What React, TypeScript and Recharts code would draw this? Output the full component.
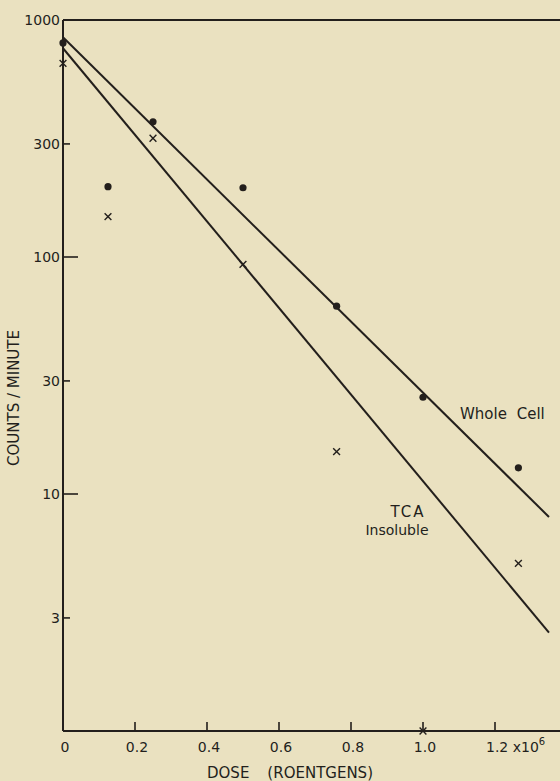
import React from "react";
import {
  ScatterChart,
  Scatter,
  XAxis,
  YAxis,
  ReferenceLine,
  Customized,
} from "recharts";

// dose in units of 10^6 roentgens
const doses = [0, 0.125, 0.25, 0.5, 0.76, 1.0, 1.265];
const wholeCell = [800, 198, 372, 196, 62, 25.6, 12.9];
const tcaInsoluble = [656, 148, 317, 93, 15.1, 1, 5.1];

// fitted straight lines (two ends each)
const fitDoses = [0, 1.35];
const wholeCellFit = [845, 8.0];
const tcaFit = [760, 2.6];

const xTicks = [0, 0.2, 0.4, 0.6, 0.8, 1.0, 1.2];
const xTickLabels = ["0", "0.2", "0.4", "0.6", "0.8", "1.0", "1.2"];
const yTicks = [3, 10, 30, 100, 300, 1000];
const yTickLabels = ["3", "10", "30", "100", "300", "1000"];

const ink = "#231f1c";
const font = "'DejaVu Sans', sans-serif";

// layout
const PLOT_LEFT = 63;
const PLOT_BOTTOM = 731;

const toPoints = (xs: number[], ys: number[]) =>
  xs.map((x, i) => ({ dose: x, counts: ys[i] }));

const wholeCellData = toPoints(doses, wholeCell);
const tcaData = toPoints(doses, tcaInsoluble);
const wholeCellLine = toPoints(fitDoses, wholeCellFit);
const tcaLine = toPoints(fitDoses, tcaFit);

const DotShape = (props: any) => (
  <circle cx={props.cx} cy={props.cy} r={3.6} fill={ink} />
);

const CrossShape = (props: any) => {
  const { cx, cy } = props;
  const s = 3.4;
  return (
    <g stroke={ink} strokeWidth={1.4}>
      <line x1={cx - s} y1={cy - s} x2={cx + s} y2={cy + s} />
      <line x1={cx - s} y1={cy + s} x2={cx + s} y2={cy - s} />
    </g>
  );
};

const NoShape = () => <g />;

const XTick = (props: any) => {
  const { x, payload } = props;
  const y = PLOT_BOTTOM;
  const i = xTicks.indexOf(payload.value);
  const label = xTickLabels[i];
  return (
    <g>
      {i > 0 && (
        <line x1={x} x2={x} y1={y} y2={y - 9} stroke={ink} strokeWidth={1.6} />
      )}
      {i === xTicks.length - 1 ? (
        <text x={x - 9} y={y + 21} fontSize={14} fontFamily={font} fill={ink}>
          {label} x10
          <tspan dy={-7} fontSize={10}>
            6
          </tspan>
        </text>
      ) : (
        <text
          x={x + 2}
          y={y + 21}
          fontSize={14}
          fontFamily={font}
          fill={ink}
          textAnchor="middle"
        >
          {label}
        </text>
      )}
    </g>
  );
};

const YTick = (props: any) => {
  const { y, payload } = props;
  const x = PLOT_LEFT;
  const i = yTicks.indexOf(payload.value);
  const len = payload.value === 10 || payload.value === 100 ? 15 : 7;
  return (
    <g>
      {payload.value !== 1000 && (
        <line x1={x} x2={x + len} y1={y} y2={y} stroke={ink} strokeWidth={1.6} />
      )}
      <text
        x={x - 3}
        y={y + 5}
        fontSize={14}
        fontFamily={font}
        fill={ink}
        textAnchor="end"
      >
        {yTickLabels[i]}
      </text>
    </g>
  );
};

const Annotations = () => (
  <g fontFamily={font} fill={ink}>
    <text
      transform="translate(19,398) rotate(-90)"
      textAnchor="middle"
      fontSize={15}
    >
      COUNTS / MINUTE
    </text>
    <text x={207} y={778} fontSize={15}>
      DOSE
      <tspan dx={18}>(ROENTGENS)</tspan>
    </text>
    <text x={460} y={419} fontSize={15} wordSpacing={5}>
      Whole Cell
    </text>
    <text x={408} y={517} fontSize={15} textAnchor="middle" letterSpacing={2}>
      TCA
    </text>
    <text x={397} y={535} fontSize={14} textAnchor="middle">
      Insoluble
    </text>
  </g>
);

export default function App() {
  return (
    <div
      style={{
        position: "absolute",
        left: 0,
        top: 0,
        width: 560,
        height: 781,
        overflow: "hidden",
        background: "#eae1c0",
      }}
    >
      <ScatterChart
        width={600}
        height={781}
        margin={{ top: 20, right: 33, bottom: 0, left: 0 }}
      >
        <XAxis
          type="number"
          dataKey="dose"
          domain={[0, 1.4]}
          ticks={xTicks}
          interval={0}
          height={781 - PLOT_BOTTOM}
          tickSize={0}
          tickMargin={0}
          tickLine={false}
          axisLine={{ stroke: ink, strokeWidth: 2 }}
          tick={<XTick />}
        />
        <YAxis
          type="number"
          dataKey="counts"
          scale="log"
          domain={[1, 1000]}
          ticks={yTicks}
          interval={0}
          width={PLOT_LEFT}
          tickSize={0}
          tickMargin={0}
          tickLine={false}
          axisLine={{ stroke: ink, strokeWidth: 2 }}
          tick={<YTick />}
        />
        <ReferenceLine y={1000} stroke={ink} strokeWidth={2} />
        <Scatter
          data={wholeCellLine}
          line={{ stroke: ink, strokeWidth: 2 }}
          shape={<NoShape />}
          isAnimationActive={false}
        />
        <Scatter
          data={tcaLine}
          line={{ stroke: ink, strokeWidth: 2 }}
          shape={<NoShape />}
          isAnimationActive={false}
        />
        <Scatter
          data={wholeCellData}
          shape={<DotShape />}
          isAnimationActive={false}
        />
        <Scatter
          data={tcaData}
          shape={<CrossShape />}
          isAnimationActive={false}
        />
        <Customized component={<Annotations />} />
      </ScatterChart>
    </div>
  );
}
